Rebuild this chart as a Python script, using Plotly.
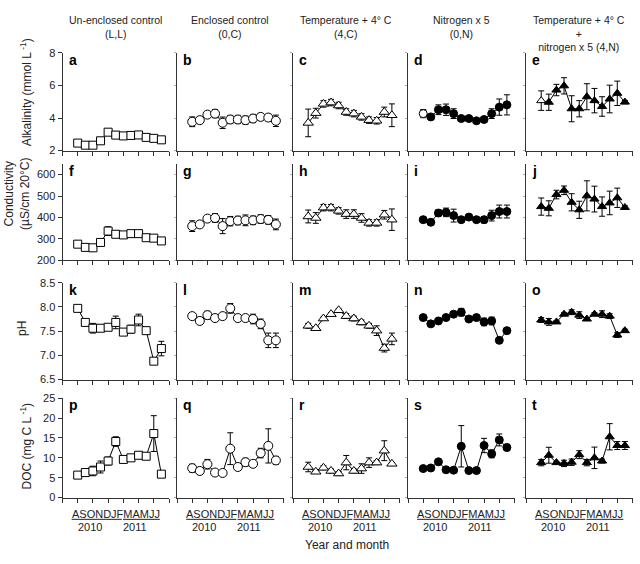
import plotly.graph_objects as go

# ---------------- data ----------------
months = list(range(12))  # A S O N D J F M A M J J (Aug 2010 - Jul 2011)
month_letters = "ASONDJFMAMJJ"
years = ["2010", "2011"]
col_titles = ["Un-enclosed control<br>(L,L)", "Enclosed control<br>(0,C)",
              "Temperature + 4° C<br>(4,C)", "Nitrogen x 5<br>(0,N)",
              "Temperature + 4° C<br>+<br>nitrogen x 5 (4,N)"]
panel_letters = list("abcdefghijklmnopqrst")

# Alkalinity (mmol L-1)
alk_LL = [2.46, 2.33, 2.33, 2.60, 3.13, 2.95, 2.90, 2.93, 2.96, 2.81, 2.75, 2.66]
alk_LL_err = [0.05, 0.05, 0.05, 0.05, 0.15, 0.05, 0.05, 0.05, 0.08, 0.05, 0.05, 0.05]
alk_0C = [3.77, 3.87, 4.21, 4.27, 3.71, 3.91, 3.91, 3.87, 3.97, 4.07, 4.03, 3.83]
alk_0C_err = [0.3, 0.1, 0.1, 0.25, 0.35, 0.25, 0.25, 0.25, 0.25, 0.2, 0.2, 0.35]
alk_4C = [3.7, 4.3, 4.87, 4.95, 4.77, 4.37, 4.27, 4.07, 3.87, 3.83, 4.37, 4.17]
alk_4C_err = [0.85, 0.3, 0.2, 0.2, 0.2, 0.2, 0.2, 0.2, 0.2, 0.2, 0.3, 0.7]
alk_0N = [4.27, 4.07, 4.51, 4.51, 4.27, 3.97, 3.97, 3.83, 3.91, 4.27, 4.67, 4.81]
alk_0N_err = [0.25, 0.1, 0.3, 0.35, 0.3, 0.1, 0.1, 0.1, 0.1, 0.3, 0.5, 0.62]
alk_4N = [5.07, 4.97, 5.72, 5.98, 4.57, 4.57, 5.31, 5.07, 4.71, 5.17, 5.52, 4.98]
alk_4N_err = [0.6, 0.5, 0.35, 0.5, 0.8, 0.5, 0.8, 0.75, 0.6, 0.85, 0.75, 0.1]

# Conductivity (uS/cm 20 C)
cond_LL = [276, 261, 259, 284, 337, 322, 319, 325, 325, 306, 304, 291]
cond_LL_err = [5, 5, 5, 8, 20, 5, 5, 5, 5, 5, 5, 5]
cond_0C = [360, 368, 395, 398, 360, 383, 386, 387, 387, 393, 389, 368]
cond_0C_err = [25, 10, 8, 20, 35, 22, 20, 25, 20, 20, 20, 25]
cond_4C = [405, 398, 446, 446, 431, 416, 416, 398, 375, 375, 413, 390]
cond_4C_err = [30, 25, 15, 15, 15, 20, 20, 20, 15, 15, 20, 50]
cond_0N = [390, 378, 421, 424, 409, 390, 402, 390, 390, 409, 428, 428]
cond_0N_err = [10, 10, 15, 20, 30, 5, 5, 10, 15, 25, 30, 30]
cond_4N = [451, 443, 507, 527, 471, 436, 501, 486, 451, 468, 492, 447]
cond_4N_err = [40, 35, 20, 20, 40, 40, 70, 60, 45, 55, 45, 8]

# pH
ph_LL = [7.97, 7.68, 7.56, 7.56, 7.58, 7.68, 7.48, 7.54, 7.73, 7.51, 6.88, 7.14]
ph_LL_err = [0.05, 0.03, 0.1, 0.05, 0.05, 0.13, 0.03, 0.08, 0.12, 0.05, 0.03, 0.15]
ph_0C = [7.81, 7.71, 7.83, 7.77, 7.81, 7.97, 7.77, 7.77, 7.75, 7.65, 7.31, 7.31]
ph_0C_err = [0.02, 0.02, 0.08, 0.02, 0.02, 0.1, 0.02, 0.02, 0.1, 0.1, 0.15, 0.15]
ph_4C = [7.61, 7.56, 7.76, 7.85, 7.93, 7.81, 7.76, 7.68, 7.61, 7.51, 7.15, 7.34]
ph_4C_err = [0.05, 0.03, 0.03, 0.03, 0.03, 0.05, 0.05, 0.05, 0.05, 0.1, 0.08, 0.12]
ph_0N = [7.78, 7.65, 7.71, 7.78, 7.85, 7.89, 7.75, 7.78, 7.69, 7.71, 7.31, 7.51]
ph_0N_err = [0.02, 0.02, 0.05, 0.02, 0.02, 0.08, 0.02, 0.02, 0.08, 0.08, 0.03, 0.02]
ph_4N = [7.73, 7.69, 7.69, 7.85, 7.89, 7.83, 7.75, 7.85, 7.85, 7.81, 7.42, 7.51]
ph_4N_err = [0.05, 0.07, 0.03, 0.03, 0.05, 0.07, 0.03, 0.03, 0.07, 0.05, 0.05, 0.03]

# DOC (mg C L-1)
doc_LL = [5.66, 6.3, 6.7, 7.7, 9.2, 14.1, 9.6, 10.0, 10.65, 10.4, 16.1, 5.9]
doc_LL_err = [0.5, 0.5, 1.2, 1.5, 1.0, 1.2, 0.3, 0.3, 0.3, 0.3, 4.5, 0.3]
doc_0C = [7.4, 6.7, 8.4, 6.3, 6.2, 12.3, 7.7, 8.9, 8.5, 11.2, 13.0, 9.35]
doc_0C_err = [1.0, 0.3, 1.2, 0.3, 0.3, 4.0, 0.5, 1.0, 0.3, 1.2, 4.3, 1.0]
doc_4C = [7.7, 6.5, 7.5, 6.7, 6.05, 8.8, 6.7, 7.3, 8.8, 8.8, 11.8, 8.5]
doc_4C_err = [1.2, 0.3, 0.5, 0.5, 0.5, 1.8, 0.5, 1.2, 1.2, 0.5, 2.5, 0.3]
doc_0N = [7.3, 7.45, 9.0, 7.0, 6.9, 12.9, 6.8, 6.8, 13.1, 11.0, 14.5, 12.6]
doc_0N_err = [0.3, 0.5, 0.3, 0.3, 0.3, 5.2, 0.3, 0.3, 1.8, 1.0, 1.5, 0.8]
doc_4N = [8.8, 10.65, 8.8, 8.6, 8.9, 10.8, 8.8, 10.0, 9.2, 15.3, 13.1, 13.1]
doc_4N_err = [0.8, 2.0, 0.3, 0.8, 0.8, 1.0, 0.8, 2.7, 0.5, 3.3, 1.0, 1.0]

rows_data = [
    [(alk_LL, alk_LL_err), (alk_0C, alk_0C_err), (alk_4C, alk_4C_err), (alk_0N, alk_0N_err), (alk_4N, alk_4N_err)],
    [(cond_LL, cond_LL_err), (cond_0C, cond_0C_err), (cond_4C, cond_4C_err), (cond_0N, cond_0N_err), (cond_4N, cond_4N_err)],
    [(ph_LL, ph_LL_err), (ph_0C, ph_0C_err), (ph_4C, ph_4C_err), (ph_0N, ph_0N_err), (ph_4N, ph_4N_err)],
    [(doc_LL, doc_LL_err), (doc_0C, doc_0C_err), (doc_4C, doc_4C_err), (doc_0N, doc_0N_err), (doc_4N, doc_4N_err)],
]
y_ranges = [[2, 8], [200, 650], [6.5, 8.5], [0, 25]]
y_ticks = [[2, 4, 6, 8], [200, 300, 400, 500, 600], [6.5, 7.0, 7.5, 8.0, 8.5], [0, 5, 10, 15, 20, 25]]
y_titles = ["Alkalinity (mmol L<sup> -1</sup>)", "Conductivity<br>(µS/cm 20°C)", "pH", "DOC (mg C L<sup> -1</sup>)"]

# ---------------- layout geometry ----------------
W, H = 640, 564
FONT = "Arial, Liberation Sans, sans-serif"
col_left = [62.5, 177, 293, 408, 526]
col_w = 106.5
row_px = [(48, 147.7), (161.3, 260), (282.7, 381.7), (400.7, 502.3)]
title_y_px = [88, 192, 330, 450]


def px(x):
    return x / W


def py(y):
    return 1 - y / H


styles = [
    dict(symbol="square", size=8, fill="white"),
    dict(symbol="circle", size=9, fill="white"),
    dict(symbol="triangle-up", size=9, fill="white"),
    dict(symbol="circle", size=8, fill="black"),
    dict(symbol="triangle-up", size=8, fill="black"),
]

fig = go.Figure()
layout = {}
annotations = []
shapes = []

for r in range(4):
    for c in range(5):
        n = r * 5 + c + 1
        sfx = "" if n == 1 else str(n)
        vals, errs = rows_data[r][c]
        st = styles[c]
        colors = [st["fill"]] * len(vals)
        if r == 0:
            colors[0] = "white"  # first alkalinity sample drawn open in every panel
        fig.add_trace(go.Scatter(
            x=months, y=vals, xaxis="x" + sfx, yaxis="y" + sfx,
            mode="lines+markers",
            line=dict(color="black", width=1),
            marker=dict(symbol=st["symbol"], size=st["size"], color=colors,
                        line=dict(color="black", width=1)),
            error_y=dict(type="data", array=errs, color="black", thickness=1, width=3),
            showlegend=False, hoverinfo="skip",
        ))
        x0 = col_left[c]
        layout["xaxis" + sfx] = dict(
            domain=[px(x0), px(x0 + col_w)], range=[-2, 12], anchor="y" + sfx,
            tickvals=[-2, 0, 2, 4, 6, 8, 10, 12], showticklabels=False,
            ticks="outside", ticklen=4, tickcolor="#333", tickwidth=1,
            showline=True, linecolor="#333", linewidth=1, showgrid=False, zeroline=False,
        )
        top, bot = row_px[r]
        layout["yaxis" + sfx] = dict(
            domain=[py(bot), py(top)], range=y_ranges[r], anchor="x" + sfx,
            tickvals=y_ticks[r], showticklabels=(c == 0),
            tickformat=".1f" if r == 2 else "d",
            ticks="outside", ticklen=4 if c == 0 else 2,
            tickcolor="#333" if c == 0 else "#aaa", tickwidth=1,
            showline=True, linecolor="#333", linewidth=1, showgrid=False, zeroline=False,
            tickfont=dict(family=FONT, size=11, color="#222"),
        )
        # panel letter
        annotations.append(dict(
            text="<b>%s</b>" % panel_letters[n - 1], x=px(x0 + 4), y=py(top - 3),
            xref="paper", yref="paper", xanchor="left", yanchor="top", showarrow=False,
            font=dict(family=FONT, size=14, color="black"),
        ))
        if r == 3:
            xa = "x" + sfx
            annotations.append(dict(
                text=month_letters, x=5.0, y=py(519), xref=xa, yref="paper",
                xanchor="center", yanchor="middle", showarrow=False,
                font=dict(family=FONT, size=11, color="#222"),
            ))
            for yr, xc in zip(years, [1.6, 7.5]):
                annotations.append(dict(
                    text=yr, x=xc, y=py(532), xref=xa, yref="paper",
                    xanchor="center", yanchor="middle", showarrow=False,
                    font=dict(family=FONT, size=11, color="#222"),
                ))
            for a0, a1 in [(-0.8, 5.8), (5.95, 10.8)]:
                shapes.append(dict(type="line", xref=xa, yref="paper",
                                   x0=a0, x1=a1, y0=py(524.5), y1=py(524.5),
                                   line=dict(color="#222", width=1)))

# column titles
for c in range(5):
    annotations.append(dict(
        text=col_titles[c], x=px(col_left[c] + col_w / 2), y=py(6),
        xref="paper", yref="paper", xanchor="center", yanchor="top", showarrow=False,
        font=dict(family=FONT, size=10.5, color="#222"),
    ))

# row titles
title_x_px = [26, 17, 22, 26]
for r in range(4):
    annotations.append(dict(
        text=y_titles[r], x=px(title_x_px[r]), y=py(title_y_px[r]),
        xref="paper", yref="paper", xanchor="center", yanchor="middle",
        textangle=-90, showarrow=False,
        font=dict(family=FONT, size=12, color="#222"),
    ))

annotations.append(dict(
    text="Year and month", x=px(347), y=py(551), xref="paper", yref="paper",
    xanchor="center", yanchor="middle", showarrow=False,
    font=dict(family=FONT, size=12, color="#222"),
))

fig.update_layout(
    width=W, height=H, margin=dict(l=0, r=0, t=0, b=0),
    paper_bgcolor="white", plot_bgcolor="white",
    annotations=annotations, shapes=shapes,
    font=dict(family=FONT, color="#222"),
    **layout,
)

fig.write_html("out.html")
